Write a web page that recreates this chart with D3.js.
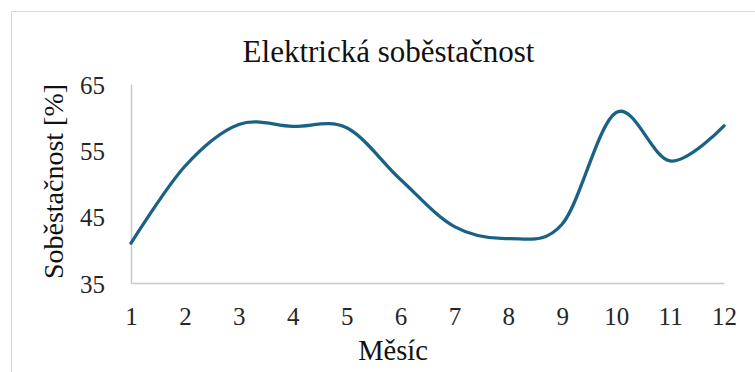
<!DOCTYPE html>
<html>
<head>
<meta charset="utf-8">
<script src="https://cdn.jsdelivr.net/npm/d3@7"></script>
<style>
  html, body { margin: 0; padding: 0; background: #fff; }
  svg { display: block; }
</style>
</head>
<body>
<svg id="chart" width="755" height="372"></svg>
<script>
// Monthly electricity self-sufficiency (%)
const months = [1, 2, 3, 4, 5, 6, 7, 8, 9, 10, 11, 12];
const selfSufficiency = [41.0, 52.6, 58.9, 58.6, 58.4, 50.6, 43.5, 41.7, 43.9, 60.7, 53.4, 58.7];
const yTicks = [35, 45, 55, 65];

const titleText = "Elektrická soběstačnost";
const xTitle = "Měsíc";
const yTitle = "Soběstačnost [%]";

const FONT = "'Liberation Serif', 'Times New Roman', Times, serif";

const svg = d3.select("#chart");
const W = 755, H = 372;
const plot = { left: 131, right: 724, top: 84, bottom: 283 };

// chart frame
svg.append("rect")
  .attr("x", 11.5).attr("y", 11.5)
  .attr("width", W + 20).attr("height", H + 20)
  .attr("fill", "#fff")
  .attr("stroke", "#d9d9d9")
  .attr("stroke-width", 1);

const x = d3.scaleLinear().domain([1, 12]).range([plot.left, plot.right]);
const y = d3.scaleLinear().domain([35, 65]).range([plot.bottom, plot.top]);

// x axis
const xAxis = svg.append("g")
  .attr("transform", `translate(0,${plot.bottom})`)
  .call(d3.axisBottom(x).tickValues(months).tickFormat(d3.format("d")).tickSize(0).tickPadding(0))
  .attr("font-family", FONT);
xAxis.select(".domain").attr("stroke", "#c8c8c8").attr("stroke-width", 1.5);
xAxis.selectAll(".tick text")
  .style("font-family", FONT)
  .attr("font-size", 25)
  .attr("fill", "#262626")
  .attr("dy", null)
  .attr("y", 42);

// y axis
const yAxis = svg.append("g")
  .attr("transform", `translate(${plot.left},0)`)
  .call(d3.axisLeft(y).tickValues(yTicks).tickSize(0).tickPadding(0))
  .attr("font-family", FONT);
yAxis.select(".domain").attr("stroke", "#c8c8c8").attr("stroke-width", 1.5);
yAxis.selectAll(".tick text")
  .style("font-family", FONT)
  .attr("font-size", 25)
  .attr("fill", "#262626")
  .attr("text-anchor", "end")
  .attr("dy", null)
  .attr("x", -26)
  .attr("y", 9);

// smoothed series line
const line = d3.line()
  .x((d, i) => x(months[i]))
  .y(d => y(d))
  .curve(d3.curveCardinal.tension(0));

svg.append("path")
  .datum(selfSufficiency)
  .attr("d", line)
  .attr("fill", "none")
  .attr("stroke", "#1a6283")
  .attr("stroke-width", 3.3)
  .attr("stroke-linecap", "round")
  .attr("stroke-linejoin", "round");

// titles
svg.append("text")
  .attr("x", 388.5).attr("y", 62)
  .attr("text-anchor", "middle")
  .style("font-family", FONT)
  .attr("font-size", 31)
  .attr("fill", "#111")
  .text(titleText);

svg.append("text")
  .attr("x", 393).attr("y", 360)
  .attr("text-anchor", "middle")
  .style("font-family", FONT)
  .attr("font-size", 28.5)
  .attr("fill", "#111")
  .text(xTitle);

svg.append("text")
  .attr("transform", "translate(63,181.5) rotate(-90)")
  .attr("text-anchor", "middle")
  .style("font-family", FONT)
  .attr("font-size", 28)
  .attr("fill", "#111")
  .text(yTitle);
</script>
</body>
</html>
